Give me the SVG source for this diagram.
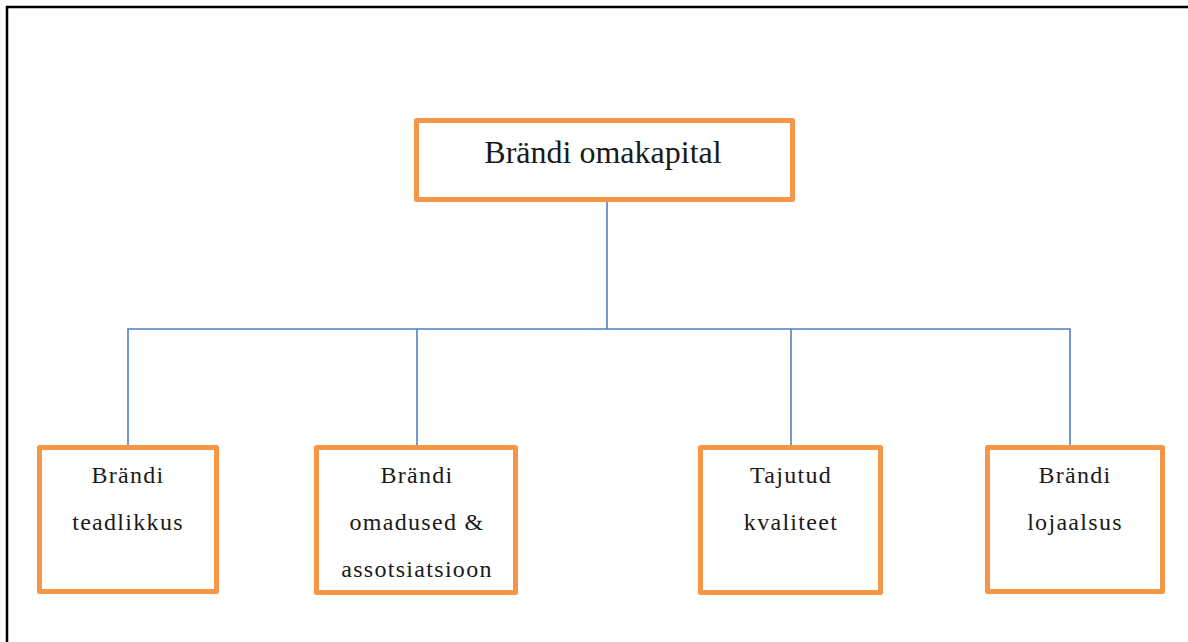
<svg xmlns="http://www.w3.org/2000/svg" width="1188" height="642" viewBox="0 0 1188 642">
<style>
.box{fill:#fff;stroke:#F79646;stroke-width:5;stroke-linejoin:round}
.t{font-family:"Liberation Serif","Times New Roman",serif;fill:#1a1a1a;text-anchor:middle}
.tb{font-size:24px;letter-spacing:1.3px}
.tt{font-size:32px}
.con{stroke:#4F81BD;stroke-width:1.6;fill:none}
</style>
<rect x="0" y="0" width="1188" height="642" fill="#fff"/>
<path d="M7,642 V7 H1188" fill="none" stroke="#000" stroke-width="2.5"/>
<g id="connectors">
<path class="con" d="M607,201 V329"/>
<path class="con" d="M128,446 V329 H1070 V446"/>
<path class="con" d="M417,329 V446"/>
<path class="con" d="M791,329 V446"/>
</g>
<g id="top">
<rect class="box" x="416.5" y="120.5" width="376" height="79"/>
<text class="t tt" x="603" y="163">Brändi omakapital</text>
</g>
<g id="n1">
<rect class="box" x="39.5" y="447.5" width="177" height="144"/>
<text class="t tb" x="128" y="483">Brändi</text>
<text class="t tb" x="128" y="530">teadlikkus</text>
</g>
<g id="n2">
<rect class="box" x="316.5" y="447.5" width="199" height="145"/>
<text class="t tb" x="417" y="483">Brändi</text>
<text class="t tb" x="417" y="530">omadused &amp;</text>
<text class="t tb" x="417" y="577">assotsiatsioon</text>
</g>
<g id="n3">
<rect class="box" x="700.5" y="447.5" width="180" height="145"/>
<text class="t tb" x="791" y="483">Tajutud</text>
<text class="t tb" x="791" y="530">kvaliteet</text>
</g>
<g id="n4">
<rect class="box" x="987.5" y="447.5" width="175" height="144"/>
<text class="t tb" x="1075" y="483">Brändi</text>
<text class="t tb" x="1075" y="530">lojaalsus</text>
</g>
</svg>
